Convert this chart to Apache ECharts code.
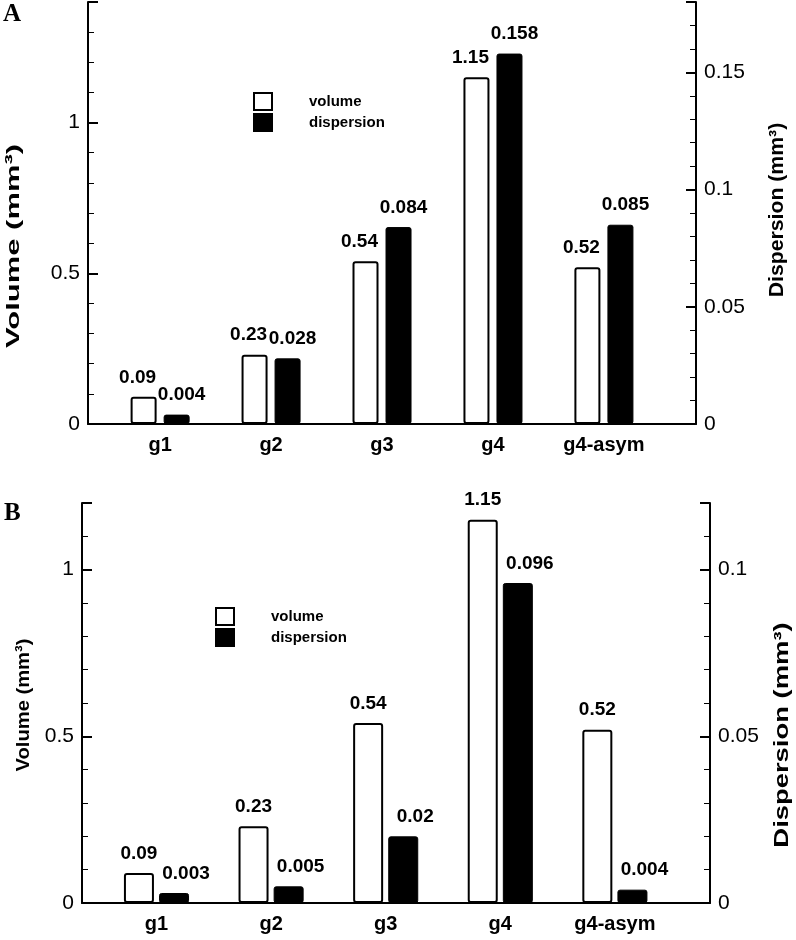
<!DOCTYPE html>
<html><head><meta charset="utf-8">
<script src="https://cdn.jsdelivr.net/npm/echarts@6/dist/echarts.min.js"></script>
<style>html,body{margin:0;padding:0;background:#fff}#c{width:796px;height:940px}</style>
</head><body><div id="c"></div>
<script>
const categories = ['g1', 'g2', 'g3', 'g4', 'g4-asym'];
const volumeA = [0.09, 0.23, 0.54, 1.15, 0.52];
const dispersionA = [0.004, 0.028, 0.084, 0.158, 0.085];
const volumeB = [0.09, 0.23, 0.54, 1.15, 0.52];
const dispersionB = [0.003, 0.005, 0.02, 0.096, 0.004];
const volumeMaxA = 1.4, dispersionMaxA = 0.18;
const volumeMaxB = 1.2, dispersionMaxB = 0.12;
const volumeStep = 0.5, dispersionStep = 0.05;
const seriesNames = ['volume', 'dispersion'];
const axisTitles = ['Volume (mm³)', 'Dispersion (mm³)'];

const FONT = 'Liberation Sans, Arial, Helvetica, sans-serif';
const catPositions = categories.map((c, i) => i + 1);
const toPoints = arr => arr.map((v, i) => [i + 1, v]);

function xAxis(gi) {
  return {
    type: 'value', gridIndex: gi, min: 0.35, max: 5.83,
    axisLine: { show: true, onZero: false, lineStyle: { color: '#000', width: 2 } },
    axisTick: { show: false }, splitLine: { show: false },
    axisLabel: {
      customValues: catPositions,
      formatter: v => categories[Math.round(v) - 1] || '',
      fontSize: 20, fontWeight: 'bold', color: '#000', margin: 11, fontFamily: FONT
    }
  };
}
function yAxis(gi, pos, max, step) {
  return {
    type: 'value', gridIndex: gi, position: pos, min: 0, max: max, interval: step,
    axisLine: { show: true, onZero: false, lineStyle: { color: '#000', width: 2 } },
    axisTick: { show: true, inside: true, length: 10, lineStyle: { color: '#000', width: 2 } },
    minorTick: { show: true, splitNumber: 5, length: 6, lineStyle: { color: '#000', width: 1 } },
    splitLine: { show: false }, minorSplitLine: { show: false },
    axisLabel: { fontSize: 21, color: '#000', margin: 8, showMaxLabel: false, fontFamily: FONT }
  };
}
function barLabel(offsetX) {
  return {
    show: true, position: 'top', distance: 10, offset: [offsetX, 0],
    fontSize: 19, fontWeight: 'bold', color: '#000', fontFamily: FONT,
    formatter: p => String(p.value[1])
  };
}
function volSeries(xi, yi, data, bw, gap, off) {
  return {
    name: seriesNames[0], type: 'bar', xAxisIndex: xi, yAxisIndex: yi,
    data: toPoints(data), barWidth: bw, barGap: gap,
    itemStyle: { color: '#fff', borderColor: '#000', borderWidth: 2, borderRadius: 2 },
    label: barLabel(off)
  };
}
function dispSeries(xi, yi, data, bw, gap, off) {
  return {
    name: seriesNames[1], type: 'bar', xAxisIndex: xi, yAxisIndex: yi,
    data: toPoints(data), barWidth: bw, barGap: gap,
    itemStyle: { color: '#000', borderColor: '#000', borderWidth: 1, borderRadius: 2 },
    label: barLabel(off)
  };
}
function legend(left, top) {
  return {
    orient: 'vertical', left: left, top: top, itemWidth: 18, itemHeight: 17, itemGap: 2,
    padding: 0, icon: 'rect', data: seriesNames,
    formatter: n => '{g| }' + n,
    textStyle: { fontSize: 15, fontWeight: 'bold', color: '#000', fontFamily: FONT,
      rich: { g: { width: 32 } } }
  };
}
// rotated (bottom-to-top) axis title; stretch follows the source figure
function axisTitle(text, cx, cy, size, stretch) {
  return {
    type: 'text', x: cx, y: cy, rotation: Math.PI / 2, scaleX: stretch, scaleY: 1,
    style: { text: text, fill: '#000', fontSize: size, fontWeight: 'bold', fontFamily: FONT,
      textAlign: 'center', textVerticalAlign: 'middle' }
  };
}

const chart = echarts.init(document.getElementById('c'), null, { renderer: 'canvas' });
chart.setOption({
  backgroundColor: '#fff',
  animation: false,
  textStyle: { fontFamily: FONT },
  title: [
    { text: 'A', left: 3, top: 2, padding: 0, textStyle: { fontFamily: 'Liberation Serif, Times New Roman, serif', fontWeight: 'bold', fontSize: 25, color: '#000' } },
    { text: 'B', left: 4, top: 501, padding: 0, textStyle: { fontFamily: 'Liberation Serif, Times New Roman, serif', fontWeight: 'bold', fontSize: 25, color: '#000' } }
  ],
  legend: [legend(253, 92), legend(215, 607)],
  grid: [
    { left: 88, top: 2, width: 608, height: 422 },
    { left: 82, top: 503, width: 628, height: 400 }
  ],
  xAxis: [xAxis(0), xAxis(1)],
  yAxis: [
    yAxis(0, 'left', volumeMaxA, volumeStep),
    yAxis(0, 'right', dispersionMaxA, dispersionStep),
    yAxis(1, 'left', volumeMaxB, volumeStep),
    yAxis(1, 'right', dispersionMaxB, dispersionStep)
  ],
  graphic: [
    axisTitle(axisTitles[0], 14, 246, 19, 1.63),
    axisTitle(axisTitles[1], 777, 210, 21, 1.01),
    axisTitle(axisTitles[0], 24, 705, 19, 1.06),
    axisTitle(axisTitles[1], 782, 735, 20, 1.37)
  ],
  series: [
    volSeries(0, 0, volumeA, 26, '27%', -6),
    dispSeries(0, 1, dispersionA, 26, '27%', 5),
    volSeries(1, 2, volumeB, 30, '17%', 0),
    dispSeries(1, 3, dispersionB, 30, '17%', 12)
  ]
});
</script></body></html>
